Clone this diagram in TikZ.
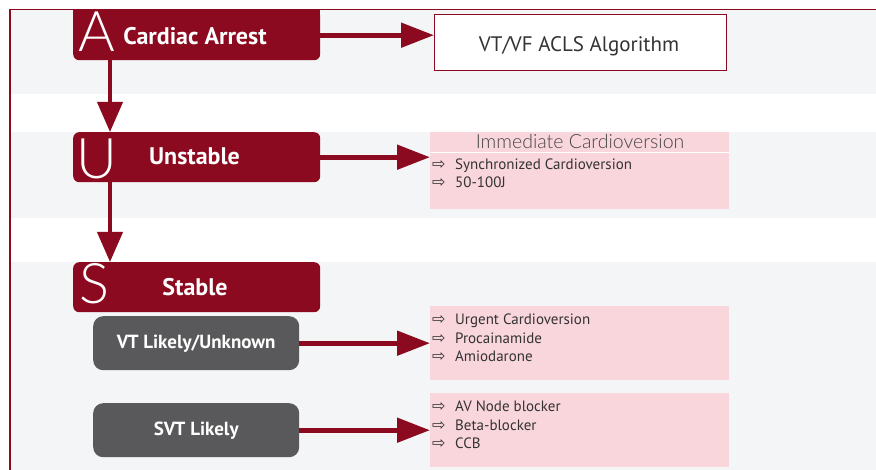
\documentclass[tikz,border=0pt]{standalone}
\usepackage{fontspec}
\setmainfont{PT Sans}
\newfontfamily\symfont{DejaVu Sans}
% light face for the big step letters and the panel heading, with fallbacks
\IfFontExistsTF{Lato Light}{\newfontfamily\lightfont{Lato Light}}{%
 \IfFontExistsTF{Fira Sans Light}{\newfontfamily\lightfont{Fira Sans Light}}{%
  \newfontfamily\lightfont{Liberation Sans}}}
\usetikzlibrary{arrows.meta,calc}

\definecolor{acls}{HTML}{8B0A1F}
\definecolor{band}{HTML}{F4F5F7}
\definecolor{pinkbox}{HTML}{F9D5DC}
\definecolor{slate}{HTML}{59595B}
\definecolor{ink}{HTML}{333333}

\newcommand\arrowitem[1]{\makebox[23pt][l]{{\symfont\fontsize{16}{16}\selectfont ⇨}}#1}

\tikzset{
  redbox/.style={fill=acls, rounded corners=6pt, minimum width=247pt, minimum height=50pt,
    inner sep=0pt, anchor=north west},
  redtitle/.style={text=white, font=\bfseries\fontsize{24}{26}\selectfont, inner sep=0pt, anchor=base},
  greybox/.style={fill=slate, rounded corners=10pt, minimum width=206pt, minimum height=54pt,
    inner sep=0pt, text=white, font=\bfseries\fontsize{19}{22}\selectfont, anchor=north west},
  pinkpanel/.style={fill=pinkbox, minimum width=299pt, inner sep=0pt, anchor=north west},
  bigletter/.style={anchor=base, inner sep=0pt, text=white, font=\lightfont\fontsize{56}{60}\selectfont},
  itemtext/.style={anchor=base west, inner sep=0pt, text=ink, font=\fontsize{15}{17}\selectfont},
  conn/.style={draw=acls, line width=5pt, -{Triangle[length=33pt,width=24pt]}},
  downconn/.style={draw=acls, line width=4pt, -{Triangle[length=30pt,width=25pt]}},
}

\begin{document}
\begin{tikzpicture}[x=1pt,y=-1pt]
\useasboundingbox (0,0) rectangle (876,470);
\fill[white] (0,0) rectangle (876,470);

% background bands
\fill[band] (10,10) rectangle (876,94);
\fill[band] (10,132) rectangle (876,218);
\fill[band] (10,262) rectangle (876,470);

% frame
\draw[acls, line width=1.3pt] (10,470) -- (10,9.6) -- (876,9.6);

% A: cardiac arrest
\node[redbox] (a) at (73,10) {};
\fill[acls] (a.north west) rectangle (a.east);
\node[redtitle] (at) at (195,45) {Cardiac Arrest};
\node[bigletter] (la) at (97,52) {A};

\node[draw=acls, line width=1pt, fill=white, minimum width=292pt, minimum height=56pt,
  inner sep=0pt, anchor=north west] (vtvf) at (434,14) {};
\node[anchor=base, inner sep=0pt, text=ink, font=\fontsize{21}{24}\selectfont] (vtvft) at (579,52) {VT/VF ACLS Algorithm};

% U: unstable
\node[redbox] (u) at (73,132) {};
\node[redtitle] (ut) at (194.5,165) {Unstable};
\node[bigletter] (lu) at (97,179) {U};

\node[pinkpanel, minimum height=77pt] (imm) at (430,132) {};
\draw[white, line width=1pt] ($(imm.north west)+(0,21)$) -- ($(imm.north east)+(0,21)$);
\node[anchor=base, inner sep=0pt, text=ink!90, font=\lightfont\fontsize{19.5}{22}\selectfont] (immt) at (580,149) {Immediate Cardioversion};
\node[itemtext] (imm1) at (432,170) {\arrowitem{Synchronized Cardioversion}};
\node[itemtext] (imm2) at (432,188) {\arrowitem{50-100J}};

% S: stable
\node[redbox] (s) at (73,262) {};
\node[redtitle] (st) at (195,296) {Stable};
\node[bigletter] (ls) at (94,304) {S};

\node[greybox] (vt) at (93,316) {VT Likely/Unknown};
\node[greybox] (svt) at (93,403) {SVT Likely};

\node[pinkpanel, minimum height=74pt] (vtlist) at (430,306) {};
\node[itemtext] (vt1) at (432,325) {\arrowitem{Urgent Cardioversion}};
\node[itemtext] (vt2) at (432,343.5) {\arrowitem{Procainamide}};
\node[itemtext] (vt3) at (432,362) {\arrowitem{Amiodarone}};

\node[pinkpanel, minimum height=74pt] (svtlist) at (430,393) {};
\node[itemtext] (svt1) at (432,412) {\arrowitem{AV Node blocker}};
\node[itemtext] (svt2) at (432,430) {\arrowitem{Beta-blocker}};
\node[itemtext] (svt3) at (432,448) {\arrowitem{CCB}};

% connectors
\draw[conn] (a.east) -- (a.east -| vtvf.west);
\draw[conn] (u.east) -- (u.east -| imm.west);
\draw[conn] (vt.east) -- (vt.east -| vtlist.west);
\draw[conn] (svt.east) -- (svt.east -| svtlist.west);
\draw[downconn] ($(a.south west)+(37,0)$) -- ($(u.north west)+(37,0)$);
\draw[downconn] ($(u.south west)+(37,0)$) -- ($(s.north west)+(37,0)$);
\end{tikzpicture}
\end{document}
